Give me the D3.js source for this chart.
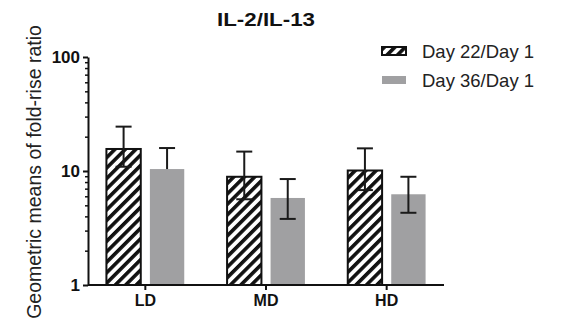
<!DOCTYPE html>
<html>
<head>
<meta charset="utf-8">
<script src="https://cdn.jsdelivr.net/npm/d3@7"></script>
<style>
  body { margin: 0; background: #fff; }
  svg { display: block; font-family: "Liberation Sans", Arial, sans-serif; }
</style>
</head>
<body>
<div id="chart"></div>
<script>
// values
var groups = ["LD", "MD", "HD"];
var seriesNames = ["Day 22/Day 1", "Day 36/Day 1"];
var day22Mean = [15.6, 8.9, 10.1];
var day22Upper = [24.5, 14.8, 15.8];
var day22Lower = [10.9, 5.65, 6.8];
var day36Mean = [10.4, 5.8, 6.25];
var day36Upper = [15.9, 8.5, 8.9];
var day36Lower = [null, 3.8, 4.3];
var yTicks = [1, 10, 100];

var width = 561, height = 330;
var svg = d3.select("#chart").append("svg")
    .attr("width", width)
    .attr("height", height);

// hatch pattern for the first series
var defs = svg.append("defs");
defs.append("pattern")
    .attr("id", "hatch")
    .attr("patternUnits", "userSpaceOnUse")
    .attr("width", 7.4)
    .attr("height", 7.4)
    .attr("patternTransform", "rotate(45)")
    .call(function(p) {
        p.append("rect").attr("width", 7.4).attr("height", 7.4).attr("fill", "#fff");
        p.append("rect").attr("x", 0).attr("width", 3.6).attr("height", 7.4).attr("fill", "#111");
    });

var series = [
    {name: seriesNames[0], mean: day22Mean, upper: day22Upper, lower: day22Lower, fill: "url(#hatch)", stroke: "#111"},
    {name: seriesNames[1], mean: day36Mean, upper: day36Upper, lower: day36Lower, fill: "#a0a0a2", stroke: "none"}
];

var y = d3.scaleLog()
    .domain([1, 100])
    .range([285, 57]);

var x = d3.scaleBand()
    .domain(groups)
    .range([85, 447])
    .paddingInner(0.355)
    .paddingOuter(0.1775);

var x1 = d3.scaleBand()
    .domain(seriesNames)
    .range([0, x.bandwidth()])
    .paddingInner(0.21);

// bars
series.forEach(function(s) {
    svg.append("g")
        .selectAll("rect")
        .data(groups)
        .enter()
        .append("rect")
        .attr("x", function(d) { return x(d) + x1(s.name); })
        .attr("y", function(d, i) { return y(s.mean[i]); })
        .attr("width", x1.bandwidth())
        .attr("height", function(d, i) { return y(1) - y(s.mean[i]); })
        .attr("fill", s.fill)
        .attr("stroke", s.stroke)
        .attr("stroke-width", 2);
});

// error bars
var capHalf = 8;
series.forEach(function(s) {
    var g = svg.append("g")
        .attr("stroke", "#1a1a1a")
        .attr("stroke-width", 2)
        .attr("fill", "none");
    groups.forEach(function(d, i) {
        var cx = x(d) + x1(s.name) + x1.bandwidth() / 2;
        var lo = s.lower[i] != null ? s.lower[i] : s.mean[i];
        g.append("line")
            .attr("x1", cx).attr("x2", cx)
            .attr("y1", y(lo)).attr("y2", y(s.upper[i]));
        g.append("line")
            .attr("x1", cx - capHalf).attr("x2", cx + capHalf)
            .attr("y1", y(s.upper[i])).attr("y2", y(s.upper[i]));
        if (s.lower[i] != null) {
            g.append("line")
                .attr("x1", cx - capHalf).attr("x2", cx + capHalf)
                .attr("y1", y(s.lower[i])).attr("y2", y(s.lower[i]));
        }
    });
});

// y axis, major and minor ticks
var yAxisG = svg.append("g")
    .attr("transform", "translate(88,0)")
    .call(d3.axisLeft(y).tickValues(yTicks).tickFormat(d3.format("d")).tickSize(5).tickSizeOuter(0));
yAxisG.select(".domain").attr("stroke", "#111").attr("stroke-width", 2);
yAxisG.selectAll(".tick line").attr("stroke", "#111").attr("stroke-width", 2);
yAxisG.selectAll(".tick text")
    .attr("x", -8)
    .attr("fill", "#111")
    .style("font-size", "17px")
    .style("font-weight", "bold");

var minor = y.ticks().filter(function(t) { return yTicks.indexOf(t) < 0; });
var yMinorG = svg.append("g")
    .attr("transform", "translate(88,0)")
    .call(d3.axisLeft(y).tickValues(minor).tickFormat("").tickSize(3).tickSizeOuter(0));
yMinorG.select(".domain").remove();
yMinorG.selectAll(".tick line").attr("stroke", "#111").attr("stroke-width", 1.5);

// x axis
var xAxisG = svg.append("g")
    .attr("transform", "translate(0,285)")
    .call(d3.axisBottom(x).tickSize(5).tickSizeOuter(0));
xAxisG.select(".domain").remove();
svg.append("line")
    .attr("x1", 88).attr("x2", 444)
    .attr("y1", 285).attr("y2", 285)
    .attr("stroke", "#111")
    .attr("stroke-width", 2);
xAxisG.selectAll(".tick line").attr("stroke", "#111").attr("stroke-width", 2);
xAxisG.selectAll(".tick text")
    .attr("y", 10)
    .attr("fill", "#111")
    .style("font-size", "16px")
    .style("font-weight", "bold");

// title
svg.append("text")
    .attr("x", 266)
    .attr("y", 26)
    .attr("text-anchor", "middle")
    .attr("textLength", 98)
    .attr("lengthAdjust", "spacingAndGlyphs")
    .attr("fill", "#111")
    .style("font-size", "17.5px")
    .style("font-weight", "bold")
    .text("IL-2/IL-13");

// y label
svg.append("text")
    .attr("transform", "translate(41,172) rotate(-90)")
    .attr("text-anchor", "middle")
    .attr("fill", "#222")
    .style("font-size", "19.5px")
    .text("Geometric means of fold-rise ratio");

// legend
var legend = svg.append("g")
    .selectAll("g")
    .data(series)
    .enter()
    .append("g")
    .attr("transform", function(d, i) { return "translate(382," + (47 + i * 29) + ")"; });
legend.append("rect")
    .attr("width", 24)
    .attr("height", 8)
    .attr("fill", function(d) { return d.fill; })
    .attr("stroke", function(d) { return d.stroke; })
    .attr("stroke-width", 2);
legend.append("text")
    .attr("x", 40)
    .attr("y", 4)
    .attr("dy", "0.36em")
    .attr("fill", "#222")
    .style("font-size", "18.5px")
    .text(function(d) { return d.name; });
</script>
</body>
</html>
